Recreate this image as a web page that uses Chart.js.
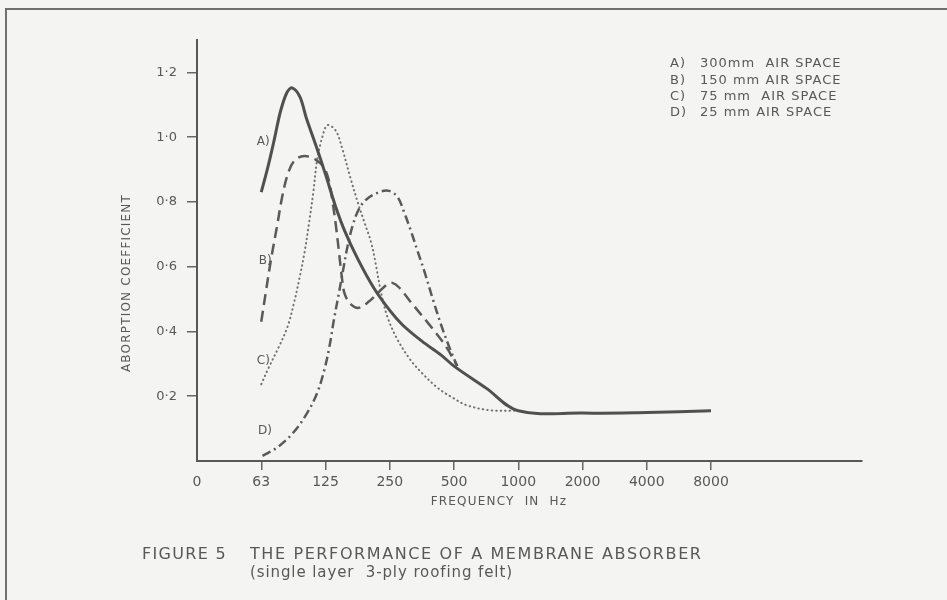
<!DOCTYPE html>
<html>
<head>
<meta charset="utf-8">
<script src="https://cdn.jsdelivr.net/npm/chart.js@4.4.1/dist/chart.umd.min.js"></script>
<style>
    body { margin: 0; background: #f4f4f3; }
    .wrap { position: relative; width: 947px; height: 600px; overflow: hidden; }
    .frame { position: absolute; left: 5px; top: 8px; right: -10px; bottom: -10px;
             border-left: 2px solid #707070; border-top: 2px solid #707070; pointer-events: none; }
</style>
</head>
<body>
<div class="wrap">
    <canvas id="absorberChart"></canvas>
    <div class="frame"></div>
</div>
<script>
// x positions are octave bands: 0 = origin, 1 = 63 Hz, 2 = 125 Hz ... 8 = 8000 Hz
const tickLabels = ['0', '63', '125', '250', '500', '1000', '2000', '4000', '8000'];

// A) 300 mm air space
const bandA = [1.0, 1.1, 1.2, 1.3, 1.4, 1.48, 1.6, 1.7, 1.85, 2.0, 2.15, 2.3, 2.5, 2.75, 3.0, 3.2, 3.5, 3.8, 4.0, 4.5, 5.0, 6.0, 7.0, 8.0];
const coefA = [0.83, 0.905, 0.99, 1.08, 1.138, 1.152, 1.125, 1.06, 0.975, 0.885, 0.79, 0.71, 0.625, 0.535, 0.465, 0.42, 0.37, 0.327, 0.293, 0.225, 0.155, 0.148, 0.15, 0.155];

// B) 150 mm air space
const bandB = [1.0, 1.07, 1.15, 1.25, 1.33, 1.42, 1.52, 1.67, 1.85, 1.98, 2.06, 2.11, 2.16, 2.21, 2.25, 2.3, 2.4, 2.52, 2.68, 2.82, 2.96, 3.04, 3.15, 3.33, 3.6, 3.87, 4.05];
const coefB = [0.43, 0.52, 0.62, 0.73, 0.82, 0.89, 0.928, 0.942, 0.93, 0.905, 0.86, 0.8, 0.73, 0.645, 0.575, 0.515, 0.483, 0.473, 0.493, 0.52, 0.545, 0.55, 0.535, 0.49, 0.425, 0.355, 0.293];

// C) 75 mm air space
const bandC = [1.0, 1.12, 1.28, 1.41, 1.51, 1.59, 1.67, 1.74, 1.81, 1.87, 1.95, 2.03, 2.16, 2.26, 2.39, 2.5, 2.6, 2.71, 2.78, 2.86, 2.96, 3.12, 3.33, 3.5, 3.75, 4.0, 4.2, 4.55, 4.95];
const coefC = [0.237, 0.29, 0.355, 0.415, 0.488, 0.56, 0.64, 0.73, 0.83, 0.93, 1.0, 1.037, 1.02, 0.965, 0.873, 0.8, 0.74, 0.675, 0.61, 0.525, 0.447, 0.375, 0.31, 0.272, 0.225, 0.193, 0.172, 0.157, 0.155];

// D) 25 mm air space
const bandD = [1.02, 1.25, 1.5, 1.72, 1.87, 1.98, 2.06, 2.13, 2.21, 2.27, 2.34, 2.42, 2.52, 2.65, 2.86, 2.99, 3.12, 3.22, 3.33, 3.43, 3.54, 3.67, 3.8, 3.93, 4.05];
const coefD = [0.016, 0.042, 0.088, 0.15, 0.21, 0.28, 0.352, 0.435, 0.52, 0.585, 0.66, 0.725, 0.778, 0.81, 0.832, 0.834, 0.816, 0.77, 0.71, 0.65, 0.585, 0.5, 0.42, 0.35, 0.293];

const legendLines = [
    ['A)', '300mm  AIR SPACE'],
    ['B)', '150 mm AIR SPACE'],
    ['C)', '75 mm  AIR SPACE'],
    ['D)', '25 mm AIR SPACE']
];

const font = '"DejaVu Sans", sans-serif';
const ink = '#585858';

function points(bands, coefs) {
    return bands.map((b, i) => ({ x: b, y: coefs[i] }));
}

const figureText = {
    id: 'figureText',
    afterDraw(chart) {
        const { ctx, scales: { x, y } } = chart;
        ctx.save();
        ctx.fillStyle = ink;
        ctx.textBaseline = 'middle';

        // curve tags next to the start of each curve
        ctx.font = '12px ' + font;
        [['A)', 0.93, 0.985], ['B)', 0.96, 0.618], ['C)', 0.93, 0.308], ['D)', 0.95, 0.092]].forEach(t => {
            ctx.fillText(t[0], x.getPixelForValue(t[1]), y.getPixelForValue(t[2]));
        });

        // key, top right
        ctx.font = '13px ' + font;
        ctx.letterSpacing = '1px';
        legendLines.forEach((l, i) => {
            ctx.fillText(l[0], 670, 64 + i * 16.2);
            ctx.fillText(l[1], 700, 64 + i * 16.2);
        });

        // axis titles
        ctx.font = '12px ' + font;
        ctx.letterSpacing = '1.2px';
        ctx.textAlign = 'center';
        ctx.fillText('FREQUENCY  IN  Hz', 499, 502);
        ctx.save();
        ctx.translate(127, 283);
        ctx.rotate(-Math.PI / 2);
        ctx.fillText('ABORPTION COEFFICIENT', 0, 0);
        ctx.restore();

        // caption
        ctx.textAlign = 'left';
        ctx.font = '16px ' + font;
        ctx.letterSpacing = '1.3px';
        ctx.fillText('FIGURE 5', 142, 555);
        ctx.letterSpacing = '1.6px';
        ctx.fillText('THE PERFORMANCE OF A MEMBRANE ABSORBER', 250, 555);
        ctx.font = '15px ' + font;
        ctx.letterSpacing = '0.9px';
        ctx.fillText('(single layer  3-ply roofing felt)', 250, 573);
        ctx.restore();
    }
};

const ctx = document.getElementById('absorberChart').getContext('2d');
new Chart(ctx, {
    type: 'line',
    data: {
        datasets: [{
            label: 'A) 300mm AIR SPACE',
            data: points(bandA, coefA),
            borderColor: '#505050',
            borderWidth: 3
        }, {
            label: 'B) 150 mm AIR SPACE',
            data: points(bandB, coefB),
            borderColor: '#5a5a5a',
            borderWidth: 2.5,
            borderDash: [11, 6]
        }, {
            label: 'C) 75 mm AIR SPACE',
            data: points(bandC, coefC),
            borderColor: '#707070',
            borderWidth: 2,
            borderDash: [0.5, 4],
            borderCapStyle: 'round'
        }, {
            label: 'D) 25 mm AIR SPACE',
            data: points(bandD, coefD),
            borderColor: '#5a5a5a',
            borderWidth: 2.5,
            borderDash: [9, 4, 2, 4]
        }]
    },
    options: {
        responsive: true,
        maintainAspectRatio: false,
        animation: false,
        layout: { padding: { top: 40, right: 85, left: 0, bottom: 0 } },
        elements: {
            point: { radius: 0 },
            line: { tension: 0.35, fill: false }
        },
        scales: {
            x: {
                type: 'linear',
                min: 0,
                max: 10.35,
                afterFit: scale => { scale.height = 139; },
                border: { color: ink, width: 2 },
                grid: {
                    drawOnChartArea: false,
                    tickLength: 9,
                    lineWidth: 1.5,
                    color: c => (c.tick && c.tick.value >= 1 && c.tick.value <= 8) ? '#666' : 'rgba(0,0,0,0)'
                },
                ticks: {
                    stepSize: 1,
                    includeBounds: false,
                    autoSkip: false,
                    maxRotation: 0,
                    padding: 4,
                    color: ink,
                    font: { family: font, size: 14 },
                    callback: v => tickLabels[v] ?? ''
                }
            },
            y: {
                min: 0,
                max: 1.3,
                afterFit: scale => { scale.width = 197; },
                border: { color: ink, width: 2 },
                grid: {
                    drawOnChartArea: false,
                    tickLength: 10,
                    lineWidth: 1.5,
                    color: c => (c.tick && c.tick.value > 0) ? '#666' : 'rgba(0,0,0,0)'
                },
                ticks: {
                    stepSize: 0.2,
                    includeBounds: false,
                    padding: 10,
                    color: ink,
                    font: { family: font, size: 13 },
                    callback: v => v > 0 ? v.toFixed(1).replace('.', '·') : ''
                }
            }
        },
        plugins: {
            legend: { display: false },
            tooltip: { enabled: false }
        }
    },
    plugins: [figureText]
});
</script>
</body>
</html>
